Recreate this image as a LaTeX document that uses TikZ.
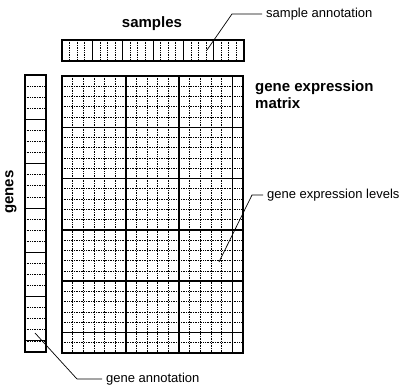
\documentclass[tikz,border=0pt]{standalone}
\usepackage{fontspec}
\setmainfont{Liberation Sans}
\usetikzlibrary{positioning}
\begin{document}
\begin{tikzpicture}[x=1pt,y=-1pt,
    boldlabel/.style={font=\fontsize{15}{17}\selectfont\bfseries, inner sep=0pt},
    smalllabel/.style={font=\fontsize{13}{15}\selectfont, inner sep=0pt, anchor=west},
    thingrid/.style={line width=0.7pt, densely dotted},
    thickgrid/.style={line width=1.5pt},
    leader/.style={line width=0.7pt, shorten >=4pt}]
  \useasboundingbox (0,0) rectangle (408,387);
  %matrice
  \foreach \i in {1,...,16} {
    \pgfmathsetmacro\xx{62+\i*181/17}
    \draw[thingrid] (\xx,76) -- (\xx,353);
  }
  \foreach \j in {1,...,26} {
    \pgfmathsetmacro\yy{76+\j*277/27}
    \draw[thingrid] (62,\yy) -- (243,\yy);
  }
  \foreach \i in {6,11,16} {
    \pgfmathsetmacro\xx{62+\i*181/17}
    \draw[thickgrid] (\xx,76) -- (\xx,353);
  }
  \foreach \j in {5,10,...,25} {
    \pgfmathsetmacro\yy{76+\j*277/27}
    \draw[thickgrid] (62,\yy) -- (243,\yy);
  }
  \draw[line width=2pt] (62,76) rectangle (243,353);
  %barra campioni
  \foreach \i in {1,...,23} {
    \pgfmathsetmacro\xx{62+\i*182/24}
    \draw[thingrid] (\xx,40) -- (\xx,61);
  }
  \foreach \i in {4,8,...,20} {
    \pgfmathsetmacro\xx{62+\i*182/24}
    \draw[line width=0.9pt] (\xx,40) -- (\xx,61);
  }
  \draw[line width=1.5pt] (62,40) rectangle (244,61);
  %barra geni
  \foreach \j in {1,...,24} {
    \pgfmathsetmacro\yy{75+\j*277/25}
    \draw[thingrid] (25,\yy) -- (46,\yy);
  }
  \foreach \j in {4,8,...,24} {
    \pgfmathsetmacro\yy{75+\j*277/25}
    \draw[line width=0.9pt] (25,\yy) -- (46,\yy);
  }
  \draw[line width=1.8pt] (25,75) rectangle (46,352);
  %testi
  \node[boldlabel] (samples) at (152,24) {samples};
  \node[boldlabel, rotate=90] (genes) at (11,192) {genes};
  \node[boldlabel, anchor=north west, align=left] (matrixlabel) at (255,80) {gene expression\\matrix};
  \node[smalllabel] (sampann) at (266,14) {sample annotation};
  \node[smalllabel] (levels) at (267,195) {gene expression levels};
  \node[smalllabel] (geneann) at (106,379) {gene annotation};
  %linee
  \coordinate (sain) at (207,50);
  \coordinate (sabend) at (232,14);
  \draw[leader] (sain) -- (sabend) -- (sampann.west);
  \coordinate (lvin) at (219,262);
  \coordinate (lvbend) at (252,195);
  \draw[leader] (lvin) -- (lvbend) -- (levels.west);
  \coordinate (gain) at (35,333);
  \coordinate (gabend) at (77,379);
  \draw[leader] (gain) -- (gabend) -- (geneann.west);
\end{tikzpicture}
\end{document}
